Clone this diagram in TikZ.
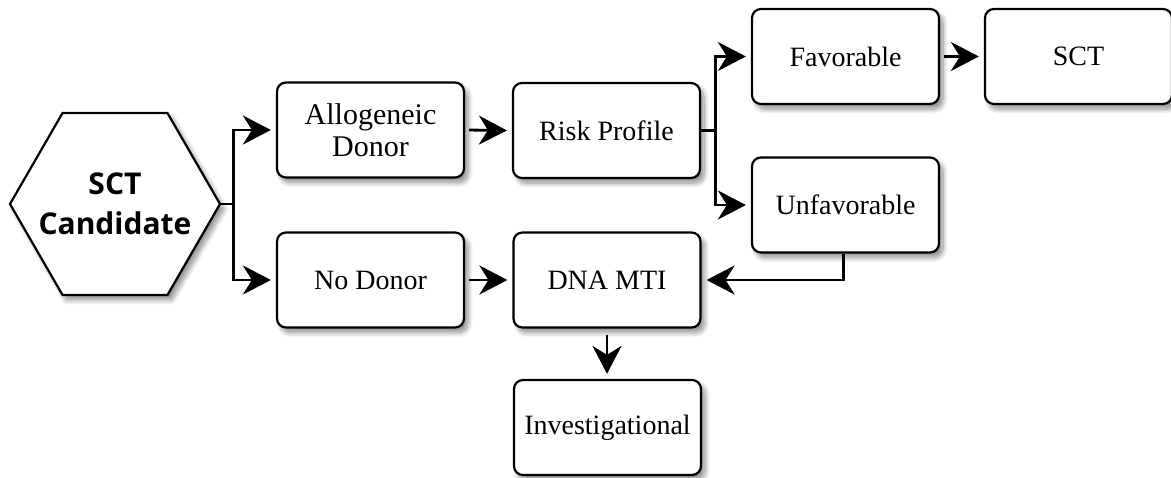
\documentclass[tikz,border=0pt]{standalone}
\usepackage{fontspec}
\setmainfont{Liberation Serif}
\newfontfamily\hexfont{Open Sans}
\usetikzlibrary{shapes.geometric,arrows.meta,shadows.blur,calc}
\tikzset{
  softshadow/.style={blur shadow={shadow xshift=4pt, shadow yshift=-5pt, shadow blur steps=10, shadow opacity=45, shadow blur radius=5pt}},
  boxnode/.style={draw, line width=2.2pt, rounded corners=9pt, fill=white,
    minimum width=187pt, minimum height=95pt, inner sep=2pt, align=center,
    font=\fontsize{28}{34}\selectfont, softshadow},
  hexnode/.style={draw, line width=2.2pt, regular polygon, regular polygon sides=6,
    minimum size=210pt, inner sep=0pt, fill=white, softshadow},
  hexlabel/.style={align=center, inner sep=0pt, font=\hexfont\bfseries\fontsize{30}{40}\selectfont},
  conn/.style={line width=2.8pt},
  arr/.style={conn, -{Stealth[length=28pt, width=29pt, inset=9pt]}, shorten >=5pt},
}
\begin{document}
\begin{tikzpicture}[x=1pt, y=-1pt]
\useasboundingbox (0,0) rectangle (1171,477);
\node[hexnode, label={[hexlabel]center:SCT\\Candidate}] (hex) at (115,204) {};
\node[boxnode, font=\fontsize{30}{32}\selectfont] (allo) at (370.5,130) {Allogeneic\\Donor};
\node[boxnode] (nodonor) at (370.5,280) {No Donor};
\node[boxnode] (risk) at (606.5,130.5) {Risk Profile};
\node[boxnode] (dna) at (607,280) {DNA MTI};
\node[boxnode] (inv) at (607.5,427.5) {Investigational};
\node[boxnode] (fav) at (845.5,56.5) {Favorable};
\node[boxnode] (unfav) at (845.5,205) {Unfavorable};
\node[boxnode] (sct) at (1078.5,56.5) {SCT};

\coordinate (j1) at ($(hex.east)+(12,0)$);
\draw[conn] (hex.east) -- (j1);
\draw[arr] (j1) |- (allo.west);
\draw[arr] (j1) |- (nodonor.west);
\draw[arr, shorten <=4pt] (allo.east) -- (risk.west);
\coordinate (j2) at ($(risk.east)+(14,0)$);
\draw[conn] (risk.east) -- (j2);
\draw[arr] (j2) |- (fav.west);
\draw[arr] (j2) |- (unfav.west);
\draw[arr, shorten <=4pt] (fav.east) -- (sct.west);
\draw[arr, shorten <=4pt] (nodonor.east) -- (dna.west);
\draw[arr] ([xshift=-2pt]unfav.south) |- (dna.east);
\draw[arr, shorten <=6pt] (dna.south) -- (dna.south |- inv.north);
\end{tikzpicture}
\end{document}
